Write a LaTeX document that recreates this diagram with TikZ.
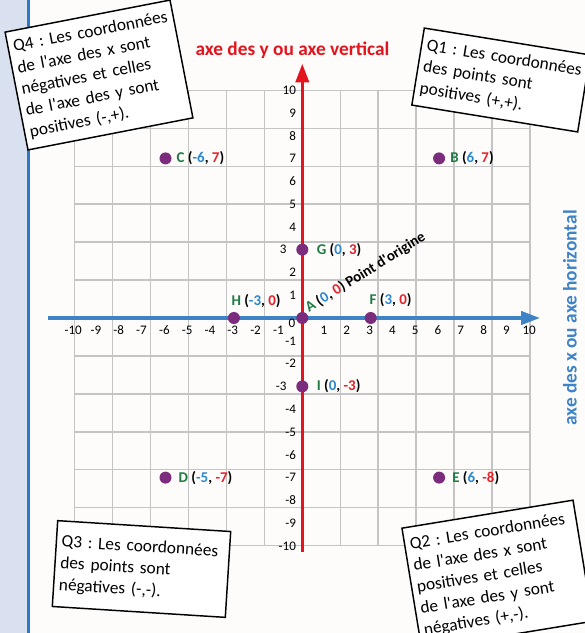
\documentclass[tikz,border=0pt]{standalone}
\usepackage{fontspec}
\setmainfont{Carlito}
\usetikzlibrary{arrows.meta}
\definecolor{bgmain}{HTML}{FDFCFA}
\definecolor{bgstrip}{HTML}{D9E1F0}
\definecolor{stripline}{HTML}{2E78C6}
\definecolor{gridcol}{HTML}{C4C4C4}
\definecolor{axred}{HTML}{E3141D}
\definecolor{axblue}{HTML}{3F83C7}
\definecolor{ptcol}{HTML}{7B2C7C}
\definecolor{lgreen}{HTML}{1F7A44}
\definecolor{lblue}{HTML}{2B88CF}
\definecolor{lred}{HTML}{E8202A}
\newcommand{\ap}{\textquotesingle}
\newcommand{\pl}[3]{\textcolor{lgreen}{#1} (\textcolor{lblue}{#2}, \textcolor{lred}{#3})}
\tikzset{
  gridline/.style={draw=gridcol, line width=1.1pt},
  redaxis/.style={draw=axred, line width=2.3pt, -{Triangle[length=14pt,width=10pt]}},
  blueaxis/.style={draw=axblue, line width=2.3pt, -{Triangle[length=14pt,width=10pt]}},
  tick/.style={font=\fontsize{9.8pt}{11pt}\selectfont, inner sep=0pt},
  pt/.style={circle, fill=ptcol, inner sep=0pt, minimum size=9pt},
  lbl/.style={font=\fontsize{11.2pt}{13pt}\selectfont\bfseries, inner sep=0pt},
  qbox/.style={draw=black, line width=1.1pt, fill=white, align=left, inner xsep=4pt,
    font=\fontsize{13pt}{16.3pt}\selectfont, execute at begin node={\hyphenpenalty=10000\frenchspacing}},
}
\begin{document}
\begin{tikzpicture}[x=0.75pt,y=-0.75pt]
\useasboundingbox (0,0) rectangle (585,633);
\fill[bgmain] (0,0) rectangle (585,633);
\fill[bgstrip] (0,0) rectangle (27,633);
\draw[stripline, line width=2pt] (28.5,0) -- (28.5,633);
\begin{scope}[shift={(302.3,318)}, x=17.1pt, y=17.1pt]
  \draw[gridline] (-10,-10) grid (10,10);
  \coordinate (yb) at (0,-10.26);
  \coordinate (yt) at (0,11.15);
  \coordinate (xl) at (-11.15,0);
  \coordinate (xr) at (10.42,0);
  \draw[redaxis] (yb) -- (yt);
  \draw[blueaxis] (xl) -- (xr);
  \foreach \i in {-10,...,-1,1,2,...,10} {
    \node[tick] (tx\i) at (\i-0.05,-0.53) {\i};
  }
  \foreach \j in {-10,...,-4,-2,-1,1,2,4,5,...,10} {
    \node[tick, anchor=east] (ty\j) at (-0.27,\j) {\j};
  }
  \node[tick, anchor=east] (ty3) at (-0.68,3) {3};
  \node[tick, anchor=east] (tym3) at (-0.68,-3) {-3};
  \node[tick] (t0) at (-0.45,-0.22) {0};
  % points
  \node[pt] (C) at (-6,7) {};
  \node[pt] (B) at (6,7) {};
  \node[pt] (G) at (0,3) {};
  \node[pt] (A) at (0,0) {};
  \node[pt] (H) at (-3,0) {};
  \node[pt] (F) at (3,0) {};
  \node[pt] (I) at (0,-3) {};
  \node[pt] (D) at (-6,-7) {};
  \node[pt] (E) at (6,-7) {};
  % labels
  \node[lbl, anchor=west] (Cl) at ([xshift=3.5pt]C.east) {\pl{C}{-6}{7}};
  \node[lbl, anchor=west] (Bl) at ([xshift=3.5pt]B.east) {\pl{B}{6}{7}};
  \node[lbl, anchor=west] (Gl) at ([xshift=6pt]G.east) {\pl{G}{0}{3}};
  \node[lbl, anchor=west] (Il) at ([xshift=6pt]I.east) {\pl{I}{0}{-3}};
  \node[lbl, anchor=west] (Dl) at ([xshift=5pt]D.east) {\pl{D}{-5}{-7}};
  \node[lbl, anchor=west] (El) at ([xshift=5pt]E.east) {\pl{E}{6}{-8}};
  \node[lbl, anchor=west] (Hl) at ([xshift=-2pt, yshift=12.8pt]H.center) {\pl{H}{-3}{0}};
  \node[lbl, anchor=west] (Fl) at ([xshift=-1pt, yshift=13.3pt]F.center) {\pl{F}{3}{0}};
  \node[lbl, anchor=base west, rotate=32] (Al) at ([xshift=5pt, yshift=3.8pt]A.center) {\pl{A}{0}{0} Point d\ap origine};
\end{scope}
% axis titles
\node[font=\fontsize{14.5pt}{17pt}\selectfont\bfseries, text=axred, inner sep=0pt] (ytitle) at (292.5,50.5) {axe des y ou axe vertical};
\node[font=\fontsize{14.5pt}{17pt}\selectfont\bfseries, text=axblue, inner sep=0pt, rotate=90] (xtitle) at (570,318) {axe des x ou axe horizontal};
% quadrant boxes
\node[qbox, rotate=11, minimum width=126pt, minimum height=90pt, text width=118pt] (Q4) at (99,75)
  {Q4 : Les coordonnées\\de l\ap axe des x sont\\négatives et celles\\de l\ap axe des y sont\\positives (-,+).};
\node[qbox, rotate=-9.2, minimum width=126pt, minimum height=58.5pt, text width=118pt] (Q1) at (501,80)
  {Q1 : Les coordonnées\\des points sont\\positives (+,+).};
\node[qbox, rotate=-3.6, minimum width=130pt, minimum height=64.5pt, text width=122pt] (Q3) at (141.5,569)
  {Q3 : Les coordonnées\\des points sont\\négatives (-,-).};
\node[qbox, rotate=9.3, minimum width=130pt, minimum height=92pt, text width=122pt] (Q2) at (497.4,574.7)
  {Q2 : Les coordonnées\\de l\ap axe des x sont\\positives et celles\\de l\ap axe des y sont\\négatives (+,-).};
\end{tikzpicture}
\end{document}
